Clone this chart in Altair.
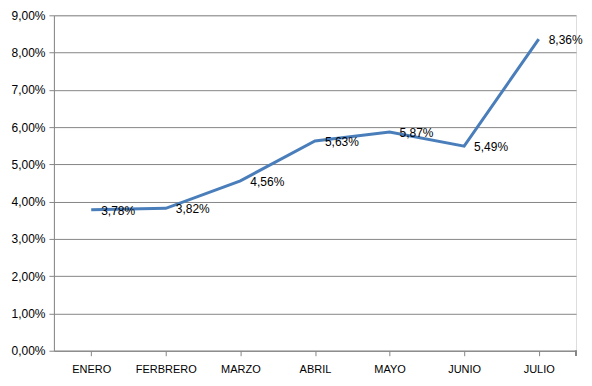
import altair as alt
import pandas as pd

months = ["ENERO", "FERBRERO", "MARZO", "ABRIL", "MAYO", "JUNIO", "JULIO"]
values = [0.0378, 0.0382, 0.0456, 0.0563, 0.0587, 0.0549, 0.0836]
labels = ["3,78%", "3,82%", "4,56%", "5,63%", "5,87%", "5,49%", "8,36%"]

df = pd.DataFrame({"mes": months, "valor": values, "etiqueta": labels})

FONT = "Liberation Sans"
GRID = "#868686"

x = alt.X("mes:N", sort=months, title=None,
          scale=alt.Scale(paddingInner=0, paddingOuter=0),
          axis=alt.Axis(bandPosition=0, labelAngle=0, labelFont=FONT, labelFontSize=11,
                        labelColor="#000000", labelPadding=8, tickColor=GRID, tickSize=5,
                        domainColor=GRID, grid=False, labelBound=False, labelFlush=False))
y = alt.Y("valor:Q", title=None,
          scale=alt.Scale(domain=[0, 0.09], nice=False),
          axis=alt.Axis(values=[i / 100 for i in range(10)],
                        labelExpr="replace(format(datum.value, '.2%'), '.', ',')",
                        labelFont=FONT, labelFontSize=12, labelColor="#000000",
                        labelPadding=4, tickColor=GRID, tickSize=5, domainColor=GRID,
                        gridColor=GRID, gridOpacity=1))

base = alt.Chart(df)
line = base.mark_line(color="#4A7EBB", strokeWidth=3).encode(x=x, y=y)
text = base.mark_text(align="left", baseline="middle", dx=10, dy=1, font=FONT,
                      fontSize=12, color="#000000").encode(x=x, y=y, text="etiqueta:N")

end_tick = base.mark_rule(color=GRID).encode(
    x=alt.value(523), y=alt.value(336), y2=alt.value(341))

chart = (line + text + end_tick).properties(
    width=523, height=336,
    padding={"left": 46, "top": 7, "right": 8, "bottom": 27},
    autosize=alt.AutoSizeParams(type="none"),
).configure_view(stroke=None).configure(background="white")

chart.save("out.html", embed_options={"renderer": "svg", "actions": False})
